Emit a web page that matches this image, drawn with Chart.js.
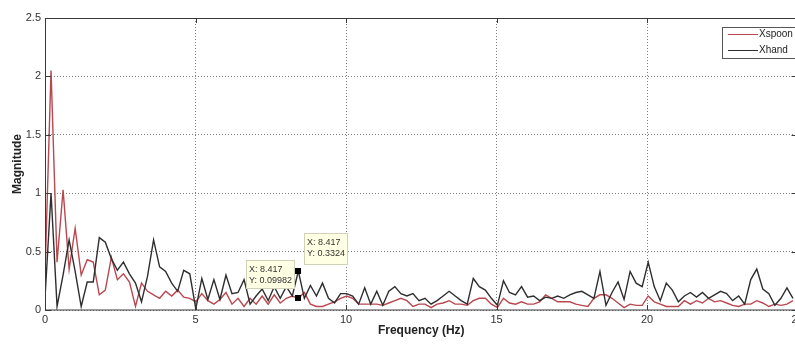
<!DOCTYPE html>
<html>
<head>
<meta charset="utf-8">
<script src="https://cdn.jsdelivr.net/npm/chart.js@4.4.1/dist/chart.umd.min.js"></script>
<style>
  html, body { margin: 0; padding: 0; background: #fff; overflow: hidden; }
  canvas { display: block; }
</style>
</head>
<body>
<canvas id="fftChart" width="800" height="344"></canvas>
<script>
// Spectrum data (FFT bins, spacing in Hz)
const binWidth = 0.2004;

const xspoon = [
  0.30, 2.05, 0.41, 1.03, 0.35, 0.70, 0.30, 0.43, 0.41, 0.13,
  0.17, 0.45, 0.26, 0.31, 0.24, 0.03, 0.23, 0.16, 0.13, 0.10,
  0.16, 0.12, 0.17, 0.11, 0.10, 0.07, 0.14, 0.08, 0.05, 0.09,
  0.15, 0.05, 0.10, 0.03, 0.10, 0.05, 0.12, 0.05, 0.13, 0.06,
  0.10, 0.12, 0.09982, 0.15, 0.05, 0.03, 0.03, 0.05, 0.07, 0.10,
  0.12, 0.10, 0.05, 0.05, 0.05, 0.05, 0.04, 0.06, 0.08, 0.10,
  0.08, 0.03, 0.05, 0.05, 0.02, 0.05, 0.06, 0.08, 0.05, 0.05,
  0.04, 0.08, 0.10, 0.10, 0.05, 0.02, 0.10, 0.06, 0.05, 0.07,
  0.05, 0.05, 0.07, 0.13, 0.10, 0.07, 0.07, 0.07, 0.05, 0.04,
  0.03, 0.10, 0.13, 0.13, 0.10, 0.06, 0.02, 0.05, 0.04, 0.04,
  0.12, 0.07, 0.05, 0.03, 0.03, 0.03, 0.08, 0.05, 0.08, 0.06,
  0.10, 0.07, 0.08, 0.06, 0.04, 0.03, 0.05, 0.05, 0.08, 0.06,
  0.03, 0.05, 0.04, 0.05, 0.08
];

const xhand = [
  0.10, 1.00, 0.03, 0.30, 0.60, 0.33, 0.03, 0.24, 0.24, 0.62,
  0.58, 0.44, 0.34, 0.41, 0.31, 0.23, 0.07, 0.29, 0.60, 0.37,
  0.33, 0.23, 0.16, 0.34, 0.31, 0.01, 0.27, 0.09, 0.26, 0.09,
  0.30, 0.14, 0.15, 0.26, 0.05, 0.12, 0.18, 0.08, 0.20, 0.10,
  0.20, 0.12, 0.3324, 0.10, 0.21, 0.12, 0.23, 0.10, 0.06, 0.14,
  0.14, 0.12, 0.05, 0.19, 0.05, 0.16, 0.04, 0.16, 0.20, 0.14,
  0.12, 0.14, 0.08, 0.10, 0.05, 0.08, 0.12, 0.16, 0.12, 0.08,
  0.05, 0.27, 0.20, 0.17, 0.10, 0.04, 0.25, 0.15, 0.13, 0.20,
  0.11, 0.12, 0.08, 0.11, 0.10, 0.12, 0.10, 0.13, 0.15, 0.16,
  0.13, 0.10, 0.33, 0.04, 0.15, 0.24, 0.09, 0.33, 0.23, 0.20,
  0.41, 0.20, 0.08, 0.23, 0.17, 0.07, 0.12, 0.15, 0.11, 0.15,
  0.10, 0.13, 0.16, 0.14, 0.08, 0.12, 0.05, 0.26, 0.35, 0.18,
  0.14, 0.04, 0.10, 0.19, 0.10
];

const xTicks = [0, 5, 10, 15, 20, 25];
const yTicks = [0, 0.5, 1, 1.5, 2, 2.5];

// Data tip markers (bin index of the marked points)
const tipIndex = 42;

const seriesColors = { xspoon: '#b9474f', xhand: '#2e2e2e' };
const baseFont = "'Liberation Sans', Arial, sans-serif";

const toPoints = arr => arr.map((v, i) => ({ x: i * binWidth, y: v }));

// Frame + MATLAB-style inward ticks
const framePlugin = {
  id: 'frame',
  afterDatasetsDraw(chart) {
    const { ctx, chartArea: a, scales: { x, y } } = chart;
    ctx.save();
    ctx.strokeStyle = '#3a3a3a';
    ctx.lineWidth = 1;
    ctx.strokeRect(a.left + 0.5, a.top + 0.5, a.right - a.left, a.bottom - a.top - 0.5);
    ctx.beginPath();
    xTicks.forEach(t => {
      const px = Math.round(x.getPixelForValue(t)) + 0.5;
      ctx.moveTo(px, a.bottom); ctx.lineTo(px, a.bottom - 5);
      ctx.moveTo(px, a.top); ctx.lineTo(px, a.top + 5);
    });
    yTicks.forEach(t => {
      const py = Math.round(y.getPixelForValue(t)) + 0.5;
      ctx.moveTo(a.left, py); ctx.lineTo(a.left + 6, py);
      ctx.moveTo(a.right, py); ctx.lineTo(a.right - 6, py);
    });
    ctx.stroke();
    ctx.restore();
  }
};

// Data cursor boxes
const tipPlugin = {
  id: 'datatips',
  afterDatasetsDraw(chart) {
    const { ctx, scales: { x, y } } = chart;
    const fx = tipIndex * binWidth;
    const px = x.getPixelForValue(fx);
    const tips = [
      { v: xspoon[tipIndex], dx: -52, dy: -38, w: 48, h: 28 },
      { v: xhand[tipIndex], dx: 6, dy: -38, w: 43, h: 31 }
    ];
    ctx.save();
    tips.forEach(t => {
      const py = y.getPixelForValue(t.v);
      ctx.fillStyle = '#000';
      ctx.fillRect(Math.round(px) - 3, Math.round(py) - 3, 6, 6);
      const bx = Math.round(px + t.dx), by = Math.round(py + t.dy);
      ctx.fillStyle = '#ffffe4';
      ctx.fillRect(bx, by, t.w, t.h);
      ctx.strokeStyle = '#d2d2b8';
      ctx.strokeRect(bx + 0.5, by + 0.5, t.w, t.h);
      ctx.fillStyle = '#333';
      ctx.font = '9px ' + baseFont;
      ctx.textBaseline = 'middle';
      ctx.fillText('X: ' + fx.toFixed(3), bx + 3, by + 10);
      ctx.fillText('Y: ' + t.v, bx + 3, by + 21);
    });
    ctx.restore();
  }
};

// Legend box (top right)
const legendPlugin = {
  id: 'boxLegend',
  afterDraw(chart) {
    const { ctx } = chart;
    const bx = 722, by = 27, bw = 80, bh = 31;
    ctx.save();
    ctx.fillStyle = '#fff';
    ctx.fillRect(bx, by, bw, bh);
    ctx.strokeStyle = '#555';
    ctx.lineWidth = 1;
    ctx.strokeRect(bx + 0.5, by + 0.5, bw, bh);
    ctx.font = '10px ' + baseFont;
    ctx.textBaseline = 'middle';
    chart.data.datasets.forEach((ds, i) => {
      const ly = by + 7 + i * 16;
      ctx.strokeStyle = ds.borderColor;
      ctx.beginPath();
      ctx.moveTo(bx + 6, ly + 0.5); ctx.lineTo(bx + 36, ly + 0.5);
      ctx.stroke();
      ctx.fillStyle = '#222';
      ctx.fillText(ds.label, bx + 37, ly);
    });
    ctx.restore();
  }
};

new Chart(document.getElementById('fftChart').getContext('2d'), {
  type: 'line',
  data: {
    datasets: [
      {
        label: 'Xspoon',
        data: toPoints(xspoon),
        borderColor: seriesColors.xspoon,
        borderWidth: 1.4,
        pointRadius: 0,
        tension: 0,
        order: 1
      },
      {
        label: 'Xhand',
        data: toPoints(xhand),
        borderColor: seriesColors.xhand,
        borderWidth: 1.4,
        pointRadius: 0,
        tension: 0,
        order: 0
      }
    ]
  },
  options: {
    responsive: false,
    animation: false,
    devicePixelRatio: 1,
    layout: { padding: { top: 18, right: 2.5, left: 0, bottom: 0 } },
    plugins: {
      legend: { display: false },
      tooltip: { enabled: false }
    },
    scales: {
      x: {
        type: 'linear',
        min: 0,
        max: 25,
        afterBuildTicks: s => { s.ticks = xTicks.map(v => ({ value: v })); },
        afterFit: s => { s.height = 34; s.paddingLeft = 0; s.paddingRight = 0; },
        grid: { color: '#808080', lineWidth: 1, drawTicks: false },
        border: { display: false, dash: [1, 2] },
        ticks: {
          color: '#333',
          padding: 3,
          font: { family: baseFont, size: 11 },
          callback: v => String(v)
        },
        title: {
          display: true,
          text: 'Frequency (Hz)',
          color: '#222',
          padding: { top: 0, bottom: 6 },
          font: { family: baseFont, size: 12, weight: 'bold' }
        }
      },
      y: {
        min: 0,
        max: 2.5,
        afterBuildTicks: s => { s.ticks = yTicks.map(v => ({ value: v })); },
        afterFit: s => { s.width = 45; s.paddingTop = 0; s.paddingBottom = 0; },
        grid: { color: '#808080', lineWidth: 1, drawTicks: false },
        border: { display: false, dash: [1, 2] },
        ticks: {
          color: '#333',
          padding: 4,
          font: { family: baseFont, size: 11 },
          callback: v => String(v)
        },
        title: {
          display: true,
          text: 'Magnitude',
          color: '#222',
          padding: { top: 10, bottom: 0 },
          font: { family: baseFont, size: 12, weight: 'bold' }
        }
      }
    }
  },
  plugins: [framePlugin, tipPlugin, legendPlugin]
});
</script>
</body>
</html>
